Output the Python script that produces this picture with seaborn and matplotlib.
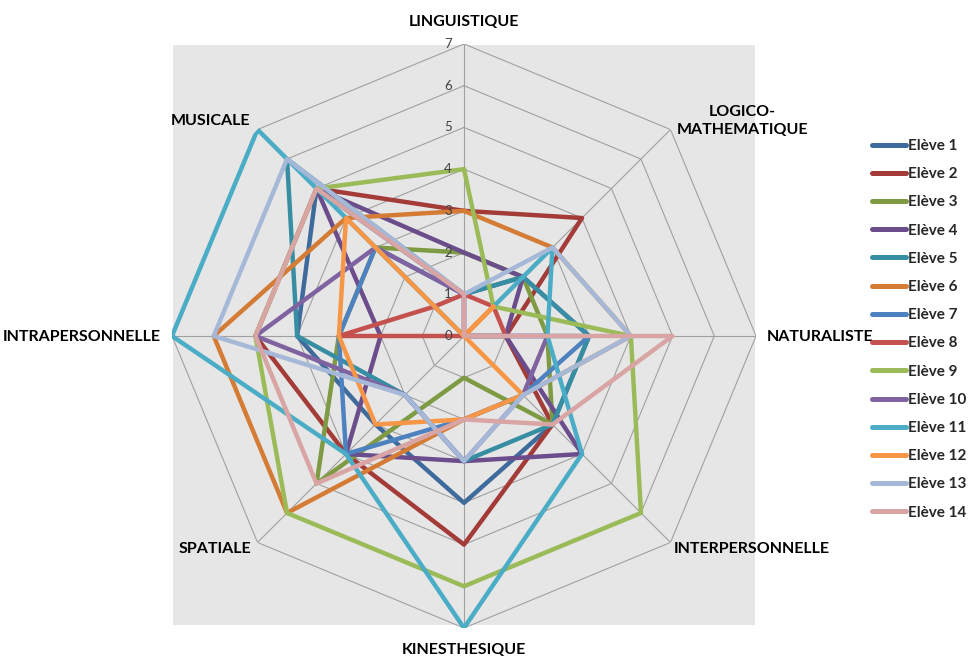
import numpy as np
import pandas as pd
import matplotlib
matplotlib.use("Agg")
import matplotlib.pyplot as plt
import matplotlib.transforms as mtransforms
from matplotlib.patches import Rectangle
import seaborn as sns

# ---------------------------------------------------------
# DATA
# ---------------------------------------------------------
axes_labels = ["LINGUISTIQUE", "LOGICO-\nMATHEMATIQUE", "NATURALISTE",
               "INTERPERSONNELLE", "KINESTHESIQUE", "SPATIALE",
               "INTRAPERSONNELLE", "MUSICALE"]

eleves = [f"Elève {i}" for i in range(1, 15)]

# scores in axis order: LING, LOGICO, NAT, INTERP, KIN, SPAT, INTRA, MUS
eleve_1 = [1, 2, 3, 3, 4, 3, 4, 5]
eleve_2 = [3, 4, 1, 3, 5, 4, 5, 5]
eleve_3 = [2, 2, 2, 3, 1, 5, 3, 3]
eleve_4 = [2, 2, 1, 4, 3, 4, 2, 5]
eleve_5 = [1, 2, 3, 3, 3, 2, 4, 6]
eleve_6 = [3, 3, 4, 2, 2, 6, 6, 4]
eleve_7 = [1, 0, 3, 2, 2, 4, 3, 3]
eleve_8 = [1, 1, 1, 0, 0, 0, 3, 1]
eleve_9 = [4, 1, 4, 6, 6, 6, 5, 5]
eleve_10 = [1, 0, 2, 2, 3, 2, 5, 3]
eleve_11 = [0, 3, 2, 4, 7, 4, 7, 7]
eleve_12 = [0, 1, 0, 2, 2, 3, 3, 4]
eleve_13 = [1, 3, 4, 2, 3, 2, 6, 6]
eleve_14 = [1, 0, 5, 3, 2, 5, 5, 5]

scores = [eleve_1, eleve_2, eleve_3, eleve_4, eleve_5, eleve_6, eleve_7,
          eleve_8, eleve_9, eleve_10, eleve_11, eleve_12, eleve_13, eleve_14]

colors = ["#3F6A9C", "#A33B38", "#7E9A42", "#6A4D8A", "#378EA3", "#D47C35",
          "#4D81C0", "#C5514E", "#9BBB59", "#7F62A0", "#4BACC6", "#F79646",
          "#A6B8D8", "#D8A5A4"]

rings = list(range(0, 8))

# ---------------------------------------------------------
# LONG TABLE (polygon closed on first axis)
# ---------------------------------------------------------
n = len(axes_labels)
angles = np.linspace(0, 2 * np.pi, n, endpoint=False)
rows = []
for name, vals in zip(eleves, scores):
    for k in range(n + 1):
        rows.append({"eleve": name,
                     "theta": angles[k % n] if k < n else 2 * np.pi,
                     "score": vals[k % n]})
df = pd.DataFrame(rows)

# ---------------------------------------------------------
# FIGURE
# ---------------------------------------------------------
sns.set_style("white")
plt.rcParams["font.family"] = ["Lato", "DejaVu Sans"]

W, H = 969, 657
fig = plt.figure(figsize=(W / 100, H / 100), dpi=100)


def fx(px):
    return px / W


def fy(py):
    return 1 - py / H


# grey plot area square
fig.add_artist(Rectangle((fx(173), fy(625)), fx(755) - fx(173), fy(45) - fy(625),
                         transform=fig.transFigure, facecolor="#E6E6E6",
                         edgecolor="none", zorder=-1))

cx, cy, R = 464, 336, 292
ax = fig.add_axes([fx(cx - R), fy(cy + R), 2 * R / W, 2 * R / H], projection="polar")
ax.set_facecolor("none")
ax.set_theta_zero_location("N")
ax.set_theta_direction(-1)

# polygon grid + spokes
closed = np.append(angles, 2 * np.pi)
for r in rings[1:]:
    ax.plot(closed, [r] * (n + 1), color="#A0A0A0", lw=0.8, zorder=1)
for a in angles:
    ax.plot([a, a], [0, rings[-1]], color="#A0A0A0", lw=0.8, zorder=1)

sns.lineplot(data=df, x="theta", y="score", hue="eleve", hue_order=eleves,
             palette=colors, sort=False, estimator=None, linewidth=3.2,
             ax=ax, zorder=3)

ax.set_ylim(0, rings[-1])
ax.set_xticks([])
ax.set_yticks([])
ax.grid(False)
ax.spines["polar"].set_visible(False)
ax.set_xlabel("")
ax.set_ylabel("")

# radial tick labels along the first axis
off = mtransforms.offset_copy(ax.transData, fig=fig, x=-16, y=0, units="dots")
for r in rings:
    ax.text(0, r, str(r), transform=off, ha="center", va="center",
            fontsize=9.5, color="#404040", zorder=4)

# category labels
lab_kw = dict(fontsize=11.5, fontweight="bold", color="black")
fig.text(fx(464), fy(22), axes_labels[0], ha="center", va="center", **lab_kw)
fig.text(fx(742), fy(121), axes_labels[1], ha="center", va="center",
         multialignment="center", linespacing=1.3, **lab_kw)
fig.text(fx(767), fy(337), axes_labels[2], ha="left", va="center", **lab_kw)
fig.text(fx(752), fy(549), axes_labels[3], ha="center", va="center", **lab_kw)
fig.text(fx(464), fy(650), axes_labels[4], ha="center", va="center", **lab_kw)
fig.text(fx(215), fy(549), axes_labels[5], ha="center", va="center", **lab_kw)
fig.text(fx(161), fy(337), axes_labels[6], ha="right", va="center", **lab_kw)
fig.text(fx(210), fy(121), axes_labels[7], ha="center", va="center", **lab_kw)

# legend on the right
handles, labels = ax.get_legend_handles_labels()
if ax.get_legend() is not None:
    ax.get_legend().remove()
leg = fig.legend(handles, labels, loc="upper left",
                 bbox_to_anchor=(fx(872), fy(139)), frameon=False,
                 prop={"family": ["Lato", "DejaVu Sans"], "weight": "bold", "size": 11},
                 handlelength=2.2, handletextpad=0.15, labelspacing=0.93,
                 borderpad=0, borderaxespad=0)
for line in leg.get_lines():
    line.set_linewidth(3.6)

fig.savefig("out.png", dpi=100)
